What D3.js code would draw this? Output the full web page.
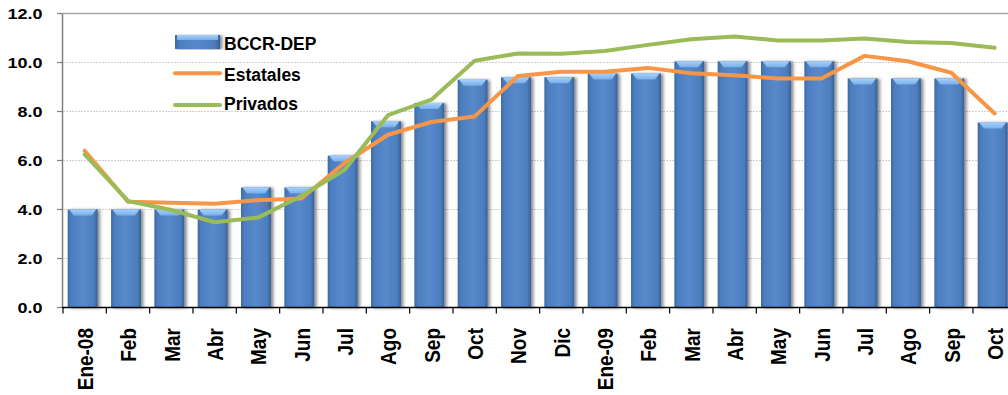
<!DOCTYPE html>
<html>
<head>
<meta charset="utf-8">
<script src="https://cdn.jsdelivr.net/npm/d3@7"></script>
<style>
  html, body { margin: 0; padding: 0; background: #fff; overflow: hidden; }
  svg { display: block; font-family: "Liberation Sans", Arial, sans-serif; }
</style>
</head>
<body>
<svg id="chart" width="1008" height="395"></svg>
<script>
// ---- data ----
const categories = ["Ene-08","Feb","Mar","Abr","May","Jun","Jul","Ago","Sep","Oct","Nov","Dic",
                    "Ene-09","Feb","Mar","Abr","May","Jun","Jul","Ago","Sep","Oct"];
const bccrDep   = [4.0,4.0,4.0,4.0,4.9,4.9,6.2,7.6,8.35,9.3,9.4,9.4,9.55,9.55,10.05,10.05,10.05,10.05,9.35,9.35,9.35,7.55];
const estatales = [6.4,4.32,4.28,4.23,4.38,4.45,5.9,7.05,7.57,7.8,9.45,9.62,9.62,9.78,9.56,9.48,9.35,9.35,10.27,10.05,9.58,7.92];
const privados  = [6.25,4.35,3.98,3.48,3.67,4.55,5.62,7.85,8.48,10.07,10.37,10.36,10.47,10.72,10.95,11.06,10.9,10.9,10.98,10.84,10.8,10.6];
const yTicks = [0, 2, 4, 6, 8, 10, 12];
const seriesNames = ["BCCR-DEP", "Estatales", "Privados"];

// ---- layout ----
const svg = d3.select("#chart");
const x = d3.scaleBand().domain(d3.range(categories.length)).range([63, 1016.3]).paddingInner(0.31).paddingOuter(0.155);
const y = d3.scaleLinear().domain([0, 12]).range([307.5, 13.5]);
const barShift = -2;

const defs = svg.append("defs");
const g = defs.append("linearGradient").attr("id", "barGrad").attr("x1", 0).attr("x2", 1).attr("y1", 0).attr("y2", 0);
[[0, "#3b69a6"], [0.12, "#4d7fc0"], [0.5, "#5789cb"], [0.88, "#4c7dbd"], [1, "#365f97"]]
  .forEach(([o, c]) => g.append("stop").attr("offset", o).attr("stop-color", c));
const cg = defs.append("linearGradient").attr("id", "capGrad").attr("x1", 0).attr("x2", 0).attr("y1", 0).attr("y2", 1);
[[0, "#a6d2fb"], [1, "#78aee9"]].forEach(([o, c]) => cg.append("stop").attr("offset", o).attr("stop-color", c));
const f = defs.append("filter").attr("id", "shadow").attr("x", "-20%").attr("y", "-5%").attr("width", "150%").attr("height", "110%");
f.append("feDropShadow").attr("dx", 2.5).attr("dy", 0.5).attr("stdDeviation", 1.6).attr("flood-color", "#000").attr("flood-opacity", 0.45);

// gridlines
svg.append("g").selectAll("line").data(yTicks.filter(d => d > 0 && d < 12)).join("line")
  .attr("x1", 63).attr("x2", 1008).attr("y1", d => y(d)).attr("y2", d => y(d))
  .attr("stroke", "#cfcfcf").attr("stroke-width", 1).attr("stroke-dasharray", "2,1");
svg.append("line").attr("x1", 63).attr("x2", 1008).attr("y1", y(12)).attr("y2", y(12))
  .attr("stroke", "#a6a6a6").attr("stroke-width", 1.5);

// bars
const bars = svg.append("g").selectAll("g").data(bccrDep).join("g").attr("filter", "url(#shadow)");
bars.append("rect")
  .attr("x", (d, i) => x(i) + barShift).attr("y", d => y(d))
  .attr("width", x.bandwidth()).attr("height", d => y(0) - y(d))
  .attr("fill", "url(#barGrad)");
bars.append("path")
  .attr("d", (d, i) => {
    const x0 = x(i) + barShift, w = x.bandwidth(), t = y(d);
    return `M${x0 + 1.5},${t}L${x0 + w - 1.5},${t}L${x0 + w - 6},${t + 6}L${x0 + 6},${t + 6}Z`;
  })
  .attr("fill", "url(#capGrad)");

// lines
const cx = i => x(i) + x.bandwidth() / 2;
const line = d3.line().x((d, i) => cx(i)).y(d => y(d));
svg.append("path").datum(estatales).attr("d", line).attr("fill", "none")
  .attr("stroke", "#F79646").attr("stroke-width", 4).attr("stroke-linejoin", "round").attr("stroke-linecap", "round");
svg.append("path").datum(privados).attr("d", line).attr("fill", "none")
  .attr("stroke", "#9BBB59").attr("stroke-width", 4).attr("stroke-linejoin", "round").attr("stroke-linecap", "round");

// y axis
svg.append("line").attr("x1", 62.5).attr("x2", 62.5).attr("y1", y(12)).attr("y2", y(0))
  .attr("stroke", "#7f7f7f").attr("stroke-width", 1.5);
svg.append("g").selectAll("line").data(yTicks).join("line")
  .attr("x1", 57).attr("x2", 62.5).attr("y1", d => y(d)).attr("y2", d => y(d))
  .attr("stroke", "#7f7f7f").attr("stroke-width", 1.2);
svg.append("g").selectAll("text").data(yTicks).join("text")
  .attr("transform", d => `translate(42.5,${y(d)}) scale(1.2,1)`)
  .attr("dy", "0.36em").attr("text-anchor", "end")
  .attr("font-size", 15).attr("font-weight", "bold").attr("fill", "#000")
  .text(d => d3.format(".1f")(d));

// x axis
svg.append("line").attr("x1", 62).attr("x2", 1008).attr("y1", y(0)).attr("y2", y(0))
  .attr("stroke", "#000").attr("stroke-width", 1.6);
svg.append("g").selectAll("line").data(d3.range(categories.length + 1)).join("line")
  .attr("x1", i => 63 + i * x.step()).attr("x2", i => 63 + i * x.step())
  .attr("y1", y(0)).attr("y2", y(0) + 6)
  .attr("stroke", "#000").attr("stroke-width", 1.2);
svg.append("g").selectAll("text").data(categories).join("text")
  .attr("transform", (d, i) => `translate(${cx(i) + 0.5},328) rotate(-90) scale(1,1.15)`)
  .attr("dy", "0.36em").attr("text-anchor", "end")
  .attr("font-size", 19).attr("font-weight", "bold").attr("fill", "#000")
  .text(d => d);

// legend
const leg = svg.append("g");
leg.append("rect").attr("x", 175).attr("y", 35).attr("width", 45).attr("height", 14)
  .attr("fill", "url(#barGrad)").attr("filter", "url(#shadow)");
leg.append("rect").attr("x", 177).attr("y", 35).attr("width", 41).attr("height", 5).attr("fill", "url(#capGrad)");
leg.append("line").attr("x1", 175).attr("x2", 220).attr("y1", 73.3).attr("y2", 73.3)
  .attr("stroke", "#F79646").attr("stroke-width", 4).attr("stroke-linecap", "round");
leg.append("line").attr("x1", 175).attr("x2", 220).attr("y1", 105).attr("y2", 105)
  .attr("stroke", "#9BBB59").attr("stroke-width", 4).attr("stroke-linecap", "round");
leg.selectAll("text").data(seriesNames).join("text")
  .attr("x", 224).attr("y", (d, i) => [50, 80.5, 110][i])
  .attr("font-size", 17.5).attr("font-weight", "bold").attr("fill", "#000")
  .text(d => d);
</script>
</body>
</html>
